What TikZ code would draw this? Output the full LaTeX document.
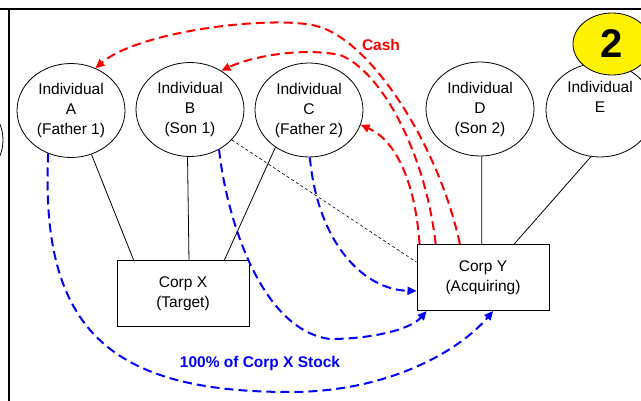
\documentclass[tikz,border=0pt]{standalone}
\usepackage{fontspec}
\setmainfont{Liberation Sans}
\usetikzlibrary{calc,arrows.meta,shapes.geometric}
\begin{document}
\begin{tikzpicture}[x=1pt,y=-1pt,
  font=\fontsize{15.5}{20}\selectfont,
  person/.style={ellipse,draw,line width=0.8pt,fill=white,minimum width=108pt,minimum height=94pt,inner sep=0pt,align=center},
  corp/.style={rectangle,draw,line width=1pt,fill=white,minimum width=132pt,minimum height=66pt,inner sep=0pt,align=center},
  link/.style={line width=0.8pt},
  cash/.style={draw=red,line width=2pt,dash pattern=on 9pt off 5pt,-{Triangle[length=9pt,width=8pt]}},
  stock/.style={draw=blue,line width=2pt,dash pattern=on 9pt off 5pt,-{Triangle[length=9pt,width=8pt]}},
  lbl/.style={font=\bfseries\fontsize{15.5}{20}\selectfont}
]
\useasboundingbox (0,0) rectangle (641,401);
\begin{scope}
\clip (0,0) rectangle (641,401);
% frame
\draw[line width=2pt] (0,9.5) -- (641,9.5);
\draw[line width=2pt] (9,9.5) -- (9,401);
% partial ellipse at left edge
\node[person,minimum width=96pt,minimum height=90pt] (L) at (-45,140) {};
% individuals
\node[person] (A) at (71,110.5) {Individual\\A\\(Father 1)};
\node[person] (B) at (190,109.5) {Individual\\B\\(Son 1)};
\node[person] (C) at (309,110) {Individual\\C\\(Father 2)};
\node[person] (D) at (480,109) {Individual\\D\\(Son 2)};
\node[person] (E) at (600,110) {Individual\\E\\\strut};
\node[ellipse,draw,fill=yellow,line width=0.8pt,minimum width=78pt,minimum height=62pt,inner sep=0pt,font=\bfseries\fontsize{40}{40}\selectfont] (N2) at (612,44) {2};
% corporations
\node[corp] (X) at (183,294) {Corp X\\(Target)};
\node[corp] (Y) at (483,277.5) {Corp Y\\(Acquiring)};
% ownership lines
\draw[link] (A.-65) -- ($(X.north west)!0.13!(X.north east)$);
\draw[link] (B.-93) -- ($(X.north west)!0.545!(X.north east)$);
\draw[link] (C.-132) -- ($(X.north west)!0.81!(X.north east)$);
\draw[link] (D.-88) -- ($(Y.north west)!0.49!(Y.north east)$);
\draw[link] (E.-101) -- ($(Y.north west)!0.735!(Y.north east)$);
\draw[line width=0.6pt,dash pattern=on 3pt off 2.5pt] (B.-36) -- ($(Y.north west)!0.27!(Y.south west)$);
% cash
\draw[cash] ($(Y.north west)!0.326!(Y.north east)$) .. controls (440,150) and (375,45) .. (320,27) .. controls (280,14) and (140,30) .. (A.60);
\draw[cash] ($(Y.north west)!0.144!(Y.north east)$) .. controls (425,150) and (380,70) .. (340,55) .. controls (300,47) and (250,57) .. (B.51);
\draw[cash] ($(Y.north west)!0.023!(Y.north east)$) .. controls (415,180) and (395,140) .. (C.-16);
% stock
\draw[stock] (C.-89) .. controls (318,245) and (365,290) .. ($(Y.north west)!0.70!(Y.south west)$);
\draw[stock] (B.-54) .. controls (226,215) and (260,330) .. (330,339) .. controls (370,339) and (410,330) .. ($(Y.south west)!0.076!(Y.south east)$);
\draw[stock] (A.-118) .. controls (40,330) and (110,392) .. (290,392) .. controls (390,392) and (460,350) .. ($(Y.south west)!0.576!(Y.south east)$);
% labels
\node[lbl,text=red] (cashlbl) at (381,45) {Cash};
\node[lbl,text=blue] (stocklbl) at (260,363) {100\% of Corp X Stock};
\end{scope}
\end{tikzpicture}
\end{document}
